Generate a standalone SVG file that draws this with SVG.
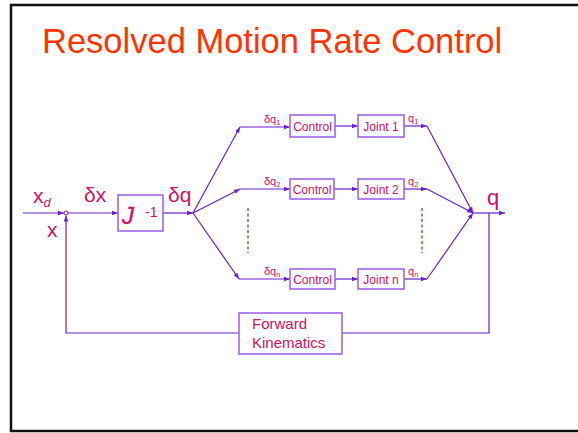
<svg xmlns="http://www.w3.org/2000/svg" width="578" height="433" viewBox="0 0 578 433">
<style>
text{font-family:"Liberation Sans",Arial,sans-serif;fill:#CC1166}
.ln{stroke:#6A1ECC;stroke-width:1.2;fill:none}
.bx{fill:#fff;stroke:#9A5CE6;stroke-width:1.5}
.s{font-size:12px}
.m{font-size:21px}
.sub{font-size:7.5px}
</style>
<defs>
<marker id="ah" viewBox="0 0 8 8" refX="8" refY="4" markerWidth="6" markerHeight="6" markerUnits="userSpaceOnUse" orient="auto">
<path d="M0,1 L8,4 L0,7 Z" fill="#6A1ECC"/>
</marker>
</defs>
<rect x="11" y="5" width="580" height="426" fill="#fff" stroke="#111" stroke-width="2.5"/>
<text x="42" y="53" style="font-size:34.5px;fill:#FF3300">Resolved Motion Rate Control</text>

<g id="connectors">
<line class="ln" x1="23" y1="213" x2="64" y2="213" marker-end="url(#ah)"/>
<line class="ln" x1="68" y1="213" x2="118" y2="213" marker-end="url(#ah)"/>
<line class="ln" x1="163" y1="213" x2="193" y2="213" marker-end="url(#ah)"/>
<line class="ln" x1="193" y1="213" x2="240" y2="127" marker-end="url(#ah)"/>
<line class="ln" x1="193" y1="213" x2="240" y2="189" marker-end="url(#ah)"/>
<line class="ln" x1="193" y1="213" x2="239" y2="279" marker-end="url(#ah)"/>
<line class="ln" x1="240" y1="127" x2="290" y2="127" marker-end="url(#ah)"/>
<line class="ln" x1="240" y1="189" x2="290" y2="189" marker-end="url(#ah)"/>
<line class="ln" x1="239" y1="279" x2="290" y2="279" marker-end="url(#ah)"/>
<line class="ln" x1="335" y1="126" x2="358" y2="126" marker-end="url(#ah)"/>
<line class="ln" x1="334" y1="189" x2="358" y2="189" marker-end="url(#ah)"/>
<line class="ln" x1="335" y1="279" x2="358" y2="279" marker-end="url(#ah)"/>
<line class="ln" x1="404" y1="126" x2="427" y2="126" marker-end="url(#ah)"/>
<line class="ln" x1="404" y1="189" x2="427" y2="189" marker-end="url(#ah)"/>
<line class="ln" x1="404" y1="279" x2="427" y2="279" marker-end="url(#ah)"/>
<line class="ln" x1="427" y1="126" x2="473" y2="213" marker-end="url(#ah)"/>
<line class="ln" x1="427" y1="189" x2="473" y2="213" marker-end="url(#ah)"/>
<line class="ln" x1="427" y1="279" x2="473" y2="213" marker-end="url(#ah)"/>
<line class="ln" x1="473" y1="213" x2="505" y2="213" marker-end="url(#ah)"/>
<polyline class="ln" points="489,213 489,333 66,333 66,215.5" marker-end="url(#ah)"/>
<line class="ln" x1="248" y1="208" x2="248" y2="253" stroke-dasharray="3,2.5"/>
<line class="ln" x1="422" y1="208" x2="422" y2="253" stroke-dasharray="3,2.5"/>
<circle cx="66" cy="213" r="2" fill="#fff" stroke="#6A1ECC" stroke-width="1"/>
</g>

<g id="labels">
<text x="33" y="203" class="m">x<tspan dy="4" style="font-size:13px;font-style:italic">d</tspan></text>
<text x="47" y="237" class="m">x</text>
<text x="84" y="202" class="m">δx</text>
<text x="168" y="202" class="m">δq</text>
<text x="487" y="205" style="font-size:22px">q</text>
<text x="264" y="123" style="font-size:11px">δq<tspan dy="2" class="sub">1</tspan></text>
<text x="264" y="185" style="font-size:11px">δq<tspan dy="2" class="sub">2</tspan></text>
<text x="264" y="275" style="font-size:11px">δq<tspan dy="2" class="sub">n</tspan></text>
<text x="408" y="122" style="font-size:11px">q<tspan dy="2" class="sub">1</tspan></text>
<text x="408" y="185" style="font-size:11px">q<tspan dy="2" class="sub">2</tspan></text>
<text x="408" y="275" style="font-size:11px">q<tspan dy="2" class="sub">n</tspan></text>
</g>

<g id="jinv">
<rect class="bx" x="118" y="195" width="45" height="36"/>
<text x="122" y="224" style="font-size:24px;font-style:italic;stroke:#CC1166;stroke-width:0.4">J</text>
<text x="145" y="217" style="font-size:14px">-1</text>
</g>
<g id="control1"><rect class="bx" x="290" y="115" width="45" height="22"/><text x="312.5" y="131" class="s" text-anchor="middle">Control</text></g>
<g id="control2"><rect class="bx" x="290" y="179" width="44" height="20"/><text x="312" y="194" class="s" text-anchor="middle">Control</text></g>
<g id="controln"><rect class="bx" x="290" y="269" width="45" height="20"/><text x="312.5" y="284" class="s" text-anchor="middle">Control</text></g>
<g id="joint1"><rect class="bx" x="358" y="115" width="46" height="22"/><text x="381" y="131" class="s" text-anchor="middle">Joint 1</text></g>
<g id="joint2"><rect class="bx" x="358" y="179" width="46" height="20"/><text x="381" y="194" class="s" text-anchor="middle">Joint 2</text></g>
<g id="jointn"><rect class="bx" x="358" y="269" width="46" height="20"/><text x="381" y="284" class="s" text-anchor="middle">Joint n</text></g>
<g id="fk">
<rect class="bx" x="239" y="313" width="103" height="41"/>
<text x="252" y="329" style="font-size:15px">Forward</text>
<text x="252" y="348" style="font-size:15px">Kinematics</text>
</g>
</svg>
